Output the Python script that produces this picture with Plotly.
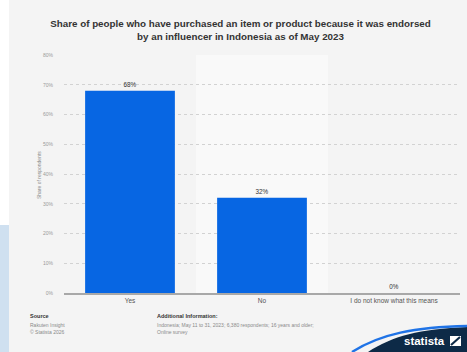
import plotly.graph_objects as go

categories = ["Yes", "No", "I do not know what this means"]
values = [68, 32, 0]
labels = ["68%", "32%", "0%"]
tick_vals = [0, 10, 20, 30, 40, 50, 60, 70, 80]
tick_text = ["0%", "10%", "20%", "30%", "40%", "50%", "60%", "70%", "80%"]

W, H = 467, 352
L, R, T, B = 64, 7, 55, 59
PW, PH = W - L - R, H - T - B

def px(x):
    return (x - L) / PW

def py(y):
    return (H - B - y) / PH

fig = go.Figure()
fig.add_trace(go.Bar(
    x=categories, y=values, text=labels, textposition="outside",
    marker=dict(color="#0766e3", line=dict(width=0)),
    width=0.68, cliponaxis=False,
    textfont=dict(family="Liberation Sans, Arial", size=6.3, color="#333333"),
))

shapes = [
    dict(type="rect", xref="x", yref="paper", x0=0.5, x1=1.5, y0=0, y1=1,
         fillcolor="#f9f9f9", line=dict(width=0), layer="below"),
    dict(type="rect", xref="paper", yref="paper", x0=px(0), x1=px(9), y0=py(352), y1=py(0),
         fillcolor="#ffffff", line=dict(width=0), layer="below"),
    dict(type="rect", xref="paper", yref="paper", x0=px(0), x1=px(9), y0=py(352), y1=py(225),
         fillcolor="#cfe0f0", line=dict(width=0), layer="below"),
    dict(type="path", xref="paper", yref="paper",
         path=f"M {px(368)},{py(352)} C {px(392)},{py(336)} {px(420)},{py(329)} {px(467)},{py(327)} L {px(467)},{py(352)} Z",
         fillcolor="#0d2a47", line=dict(width=0)),
    dict(type="path", xref="paper", yref="paper",
         path=f"M {px(352)},{py(352)} C {px(380)},{py(334)} {px(415)},{py(327)} {px(467)},{py(326)}",
         line=dict(color="#1f73e6", width=2.5)),
    dict(type="rect", xref="paper", yref="paper", x0=px(450), x1=px(461), y0=py(346), y1=py(336),
         fillcolor="#ffffff", line=dict(width=0)),
    dict(type="line", xref="paper", yref="paper", x0=px(451), x1=px(460), y0=py(345), y1=py(337),
         line=dict(color="#0d2a47", width=2.2)),
]

ann_font = dict(family="Liberation Sans, Arial", size=5, color="#8a8a8a")
annotations = [
    dict(text="Share of respondents", textangle=-90, xref="paper", yref="paper",
         x=px(34), y=py(175), showarrow=False, font=dict(family="Liberation Sans, Arial", size=5, color="#8a8a8a")),
    dict(text="<b>Source</b>", xref="paper", yref="paper", x=px(28), y=py(316), xanchor="left", yanchor="middle",
         showarrow=False, font=dict(family="Liberation Sans, Arial", size=5.5, color="#333333")),
    dict(text="Rakuten Insight<br>© Statista 2026", xref="paper", yref="paper", x=px(28), y=py(320), xanchor="left", yanchor="top",
         showarrow=False, align="left", font=ann_font),
    dict(text="<b>Additional Information:</b>", xref="paper", yref="paper", x=px(155), y=py(316), xanchor="left", yanchor="middle",
         showarrow=False, font=dict(family="Liberation Sans, Arial", size=5.5, color="#333333")),
    dict(text="Indonesia; May 11 to 31, 2023; 6,380 respondents; 16 years and older;<br>Online survey", xref="paper", yref="paper",
         x=px(155), y=py(320), xanchor="left", yanchor="top", showarrow=False, align="left", font=ann_font),
    dict(text="<b>statista</b>", xref="paper", yref="paper", x=px(447), y=py(341), xanchor="right", yanchor="middle",
         showarrow=False, font=dict(family="Liberation Sans, Arial", size=11.5, color="#ffffff")),
]

fig.update_layout(
    width=W, height=H,
    margin=dict(l=L, r=R, t=T, b=B),
    paper_bgcolor="#f4f4f4", plot_bgcolor="#f4f4f4",
    showlegend=False,
    title=dict(
        text="<b>Share of people who have purchased an item or product because it was endorsed<br>by an influencer in Indonesia as of May 2023</b>",
        x=0.515, xanchor="center", y=1 - 27 / H, yanchor="middle",
        font=dict(family="Liberation Sans, Arial", size=9.8, color="#333333"),
    ),
    xaxis=dict(
        showgrid=False, showline=True, linecolor="#a8a8a8", linewidth=1.5,
        ticks="", tickfont=dict(family="Liberation Sans, Arial", size=6.5, color="#555555"),
        range=[-0.5, 2.5],
    ),
    yaxis=dict(
        range=[0, 80], tickvals=tick_vals, ticktext=tick_text,
        showgrid=True, gridcolor="#d2d2d2", griddash="dot", gridwidth=0.6,
        zeroline=False, showline=False, ticks="",
        tickfont=dict(family="Liberation Sans, Arial", size=5, color="#9a9a9a"),
        ticklabelstandoff=10,
    ),
    shapes=shapes,
    annotations=annotations,
)

fig.write_html(
    "out.html",
    config={"displayModeBar": False},
    post_script="document.body.style.margin='0';document.body.style.overflow='hidden';",
)
